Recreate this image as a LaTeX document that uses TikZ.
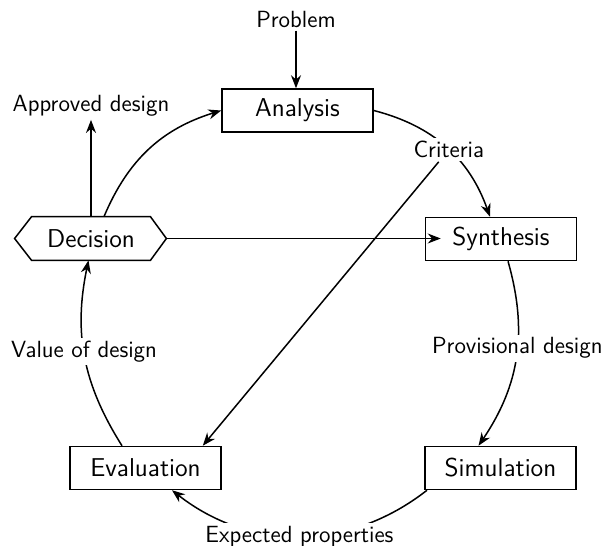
\documentclass[tikz,border=0pt]{standalone}
\usetikzlibrary{arrows.meta}
\begin{document}
\begin{tikzpicture}[x=0.5pt,y=-0.5pt,
  box/.style={draw, line width=0.75pt, minimum width=75.5pt, minimum height=21.5pt, inner sep=0pt, font=\sffamily\fontsize{12.9}{15}\selectfont},
  hexa/.style={minimum width=59pt, minimum height=21.5pt, inner sep=0pt, font=\sffamily\fontsize{12.9}{15}\selectfont},
  lbl/.style={font=\sffamily\fontsize{11.7}{14}\selectfont, fill=white, inner sep=1.5pt},
  conn/.style={line width=0.75pt, -{Stealth[length=6.5pt,width=5pt]}}]
\useasboundingbox (0,0) rectangle (601,546);
\node[box] (ana) at (297.5,110.5) {Analysis};
\node[box] (syn) at (501,239) {Synthesis};
\node[box] (sim) at (500.5,468) {Simulation};
\node[box] (eva) at (145.5,468) {Evaluation};
\node[hexa] (dec) at (91,238.5) {Decision};
\draw[line width=0.75pt] (dec.north west) -- (dec.north east) -- ([xshift=8pt]dec.east) -- (dec.south east) -- (dec.south west) -- ([xshift=-8.5pt]dec.west) -- cycle;
\node[lbl] (prob) at (296,19) {Problem};
\node[lbl] (appr) at (91,106) {Approved design};
\draw[conn] (prob.south) -- (prob.south |- ana.north);
\draw[conn] (dec.north) -- (appr.south);
\draw[conn] ([xshift=6.5pt]dec.north) to[bend left=25] (ana.west);
\draw[conn] (ana.east) to[bend left=28] node[lbl, pos=0.52] (crit) {Criteria} ([xshift=-5.5pt]syn.north);
\draw[conn] ([xshift=3.5pt]syn.south) to[bend left=25] node[lbl, pos=0.45] (prov) {Provisional design} ([xshift=-11pt]sim.north);
\draw[conn] ([xshift=-36.75pt]sim.south) to[bend left=38] node[lbl] (expp) {Expected properties} ([xshift=13.25pt]eva.south);
\draw[conn] ([xshift=-11.75pt]eva.north) to[bend left=22] node[lbl, pos=0.53] (val) {Value of design} ([xshift=-1.25pt]dec.south);
\draw[conn] ([xshift=8pt]dec.east) -- ([xshift=8pt]dec.east -| syn.west);
\draw[conn] (crit) -- ([xshift=-9.5pt]eva.north east);
\end{tikzpicture}
\end{document}
